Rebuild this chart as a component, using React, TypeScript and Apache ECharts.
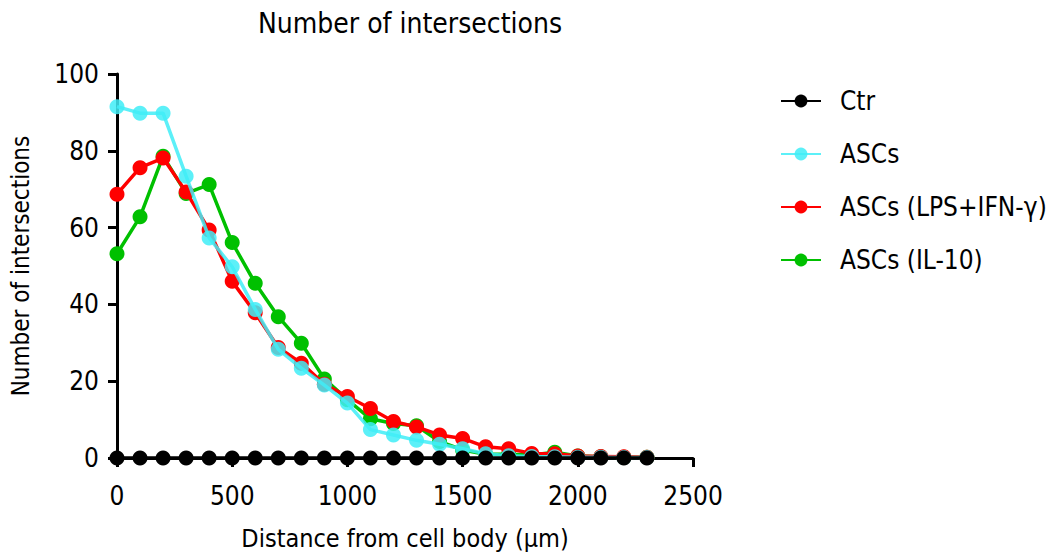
import React, { useEffect, useRef } from "react";
import * as echarts from "echarts";

const distances = [0, 100, 200, 300, 400, 500, 600, 700, 800, 900, 1000, 1100, 1200, 1300, 1400, 1500, 1600, 1700, 1800, 1900, 2000, 2100, 2200, 2300];
const ctr = [0, 0, 0, 0, 0, 0, 0, 0, 0, 0, 0, 0, 0, 0, 0, 0, 0, 0, 0, 0, 0, 0, 0, 0];
const ascs = [91.5, 89.8, 89.8, 73.4, 57.3, 49.8, 38.7, 28.3, 23.4, 19, 14.3, 7.4, 6, 4.6, 3.6, 2.4, 1.1, 0.6, 0.4, 0.3, 0.2, 0.2, 0.1, 0.1];
const lpsIfn = [68.7, 75.6, 78.1, 69.3, 59.4, 46, 37.8, 28.8, 24.7, 19.2, 16, 12.9, 9.5, 8.1, 6, 5.1, 2.9, 2.4, 1.2, 1.1, 0.5, 0.4, 0.3, 0.2];
const il10 = [53.2, 62.8, 78.6, 68.9, 71.2, 56.1, 45.5, 36.8, 29.9, 20.6, 15.2, 10.2, 9, 8.4, 4.3, 2.1, 1, 1, 0.8, 1.5, 0.5, 0.3, 0.2, 0.2];
const legendNames = ["Ctr", "ASCs", "ASCs (LPS+IFN-γ)", "ASCs (IL-10)"];

const FONT = "'DejaVu Sans Condensed', 'Liberation Sans Narrow', sans-serif";

const pairs = (ys: number[]) => distances.map((d, i) => [d, ys[i]]);

export default function App() {
  const ref = useRef<HTMLDivElement>(null);
  useEffect(() => {
    if (!ref.current) return;
    const chart = echarts.init(ref.current, undefined, { renderer: "svg" });
    const mk = (name: string, data: number[], color: string, z: number, opacity = 1) => ({
      name,
      type: "line",
      data: pairs(data),
      z,
      symbol: "circle",
      symbolSize: 15,
      lineStyle: { color, width: 3.5, opacity },
      itemStyle: { color, opacity },
    });
    chart.setOption({
      animation: false,
      title: {
        text: "Number of intersections",
        left: 405,
        top: 4,
        textAlign: "center",
        textStyle: { fontFamily: FONT, fontSize: 28, fontWeight: "normal", color: "#000" },
      },
      legend: {
        orient: "vertical",
        left: 775,
        top: 83,
        itemWidth: 40,
        itemHeight: 16,
        itemGap: 27,
        data: legendNames,
        textStyle: { fontFamily: FONT, fontSize: 26, color: "#000", padding: [0, 0, 0, 14] },
      },
      grid: { left: 117, right: 364, top: 74, bottom: 99, containLabel: false },
      xAxis: {
        type: "value",
        min: 0,
        max: 2500,
        interval: 500,
        name: "Distance from cell body (µm)",
        nameLocation: "middle",
        nameGap: 68,
        nameTextStyle: { fontFamily: FONT, fontSize: 25, color: "#000" },
        axisLine: { lineStyle: { color: "#000", width: 3 } },
        axisTick: { show: true, length: 9, lineStyle: { color: "#000", width: 3 } },
        axisLabel: { fontFamily: FONT, fontSize: 26, color: "#000", margin: 25, formatter: (v: number) => String(v) },
        splitLine: { show: false },
      },
      yAxis: {
        type: "value",
        min: 0,
        max: 100,
        interval: 20,
        name: "Number of intersections",
        nameLocation: "middle",
        nameGap: 84,
        nameTextStyle: { fontFamily: FONT, fontSize: 24, color: "#000" },
        axisLine: { show: true, lineStyle: { color: "#000", width: 3 } },
        axisTick: { show: true, length: 9, lineStyle: { color: "#000", width: 3 } },
        axisLabel: { fontFamily: FONT, fontSize: 26, color: "#000", margin: 18 },
        splitLine: { show: false },
      },
      series: [
        mk("ASCs (IL-10)", il10, "#00C000", 2),
        mk("ASCs (LPS+IFN-γ)", lpsIfn, "#FF0000", 3),
        mk("ASCs", ascs, "#40EDF7", 4, 0.85),
        mk("Ctr", ctr, "#000000", 5),
      ],
    });
    return () => chart.dispose();
  }, []);
  return <div ref={ref} style={{ position: "absolute", left: 0, top: 0, width: 1057, height: 557 }} />;
}
